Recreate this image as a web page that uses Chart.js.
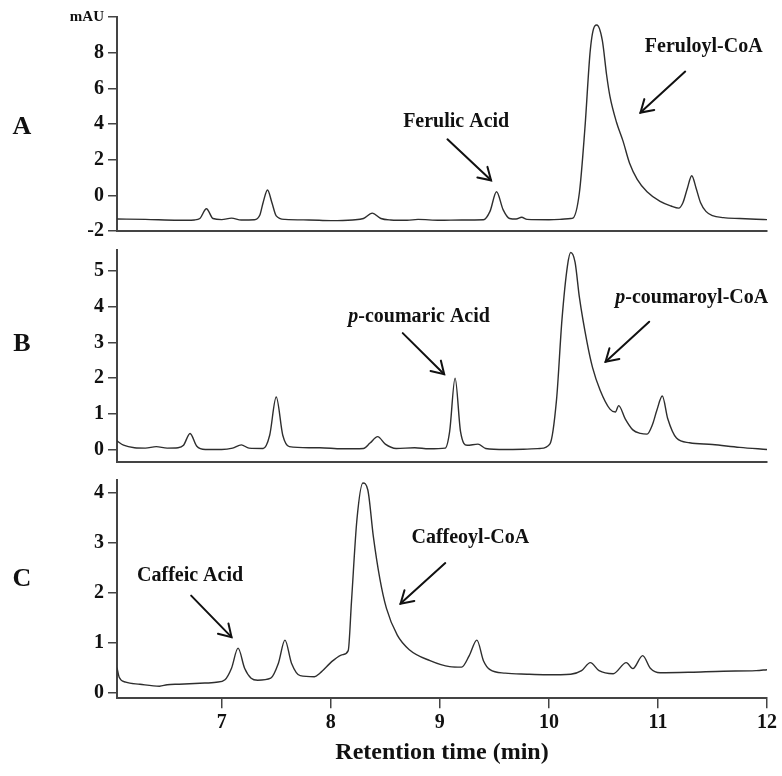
<!DOCTYPE html>
<html>
<head>
<meta charset="utf-8">
<script src="https://cdn.jsdelivr.net/npm/chart.js@4.4.1/dist/chart.umd.min.js"></script>
<style>
  html, body { margin: 0; padding: 0; background: #fff; }
  #wrap { position: relative; width: 782px; height: 776px; }
  #wrap canvas { position: absolute; left: 0; top: 0; }
</style>
</head>
<body>
<div id="wrap">
  <canvas id="chartA" width="782" height="776"></canvas>
  <canvas id="chartB" width="782" height="776"></canvas>
  <canvas id="chartC" width="782" height="776"></canvas>
</div>
<script>
// Retention time (min) and absorbance (mAU)
const timeA = [6.04, 6.3, 6.6, 6.75, 6.8, 6.86, 6.92, 7.0, 7.09, 7.18, 7.3, 7.35, 7.38, 7.42, 7.46, 7.5, 7.58, 7.8, 8.0, 8.2, 8.3, 8.38, 8.46, 8.55, 8.7, 8.8, 9.0, 9.2, 9.4, 9.46, 9.52, 9.58, 9.64, 9.7, 9.75, 9.8, 10.0, 10.1, 10.2, 10.22, 10.28, 10.33, 10.38, 10.42, 10.44, 10.49, 10.53, 10.56, 10.62, 10.68, 10.74, 10.81, 10.9, 11.02, 11.12, 11.19, 11.23, 11.27, 11.31, 11.35, 11.39, 11.44, 11.5, 11.6, 11.75, 11.9, 12.0];
const mauA = [-1.33, -1.35, -1.4, -1.38, -1.3, -0.75, -1.3, -1.36, -1.28, -1.38, -1.37, -1.1, -0.4, 0.3, -0.4, -1.15, -1.35, -1.38, -1.42, -1.38, -1.3, -1.0, -1.3, -1.38, -1.4, -1.35, -1.4, -1.38, -1.37, -0.9, 0.2, -0.8, -1.3, -1.33, -1.23, -1.35, -1.37, -1.35, -1.3, -1.28, 0.16, 3.73, 8.16, 9.49, 9.55, 8.69, 6.72, 5.55, 4.1, 3.04, 1.8, 0.9, 0.2, -0.34, -0.6, -0.72, -0.4, 0.4, 1.1, 0.4, -0.4, -0.9, -1.14, -1.25, -1.3, -1.34, -1.36];

const timeB = [6.04, 6.1, 6.2, 6.3, 6.4, 6.5, 6.6, 6.65, 6.71, 6.77, 6.85, 7.0, 7.1, 7.18, 7.25, 7.38, 7.44, 7.5, 7.56, 7.62, 7.8, 7.9, 8.1, 8.3, 8.36, 8.43, 8.5, 8.6, 8.77, 8.9, 9.05, 9.09, 9.14, 9.19, 9.25, 9.35, 9.42, 9.6, 9.8, 9.92, 10.01, 10.07, 10.12, 10.17, 10.2, 10.24, 10.28, 10.35, 10.4, 10.47, 10.56, 10.61, 10.64, 10.7, 10.77, 10.84, 10.9, 10.95, 10.99, 11.04, 11.09, 11.17, 11.29, 11.5, 11.75, 12.0];
const mauB = [0.24, 0.12, 0.05, 0.04, 0.08, 0.04, 0.05, 0.12, 0.45, 0.1, 0.0, 0.0, 0.04, 0.13, 0.04, 0.03, 0.4, 1.47, 0.4, 0.08, 0.05, 0.05, 0.02, 0.03, 0.18, 0.36, 0.15, 0.03, 0.05, 0.02, 0.04, 0.5, 2.0, 0.5, 0.12, 0.15, 0.03, 0.0, 0.01, 0.03, 0.16, 1.39, 3.64, 5.14, 5.52, 5.25, 4.26, 3.0, 2.3, 1.66, 1.13, 1.05, 1.23, 0.86, 0.55, 0.45, 0.43, 0.7, 1.1, 1.5, 0.86, 0.32, 0.19, 0.14, 0.06, 0.0];

const timeC = [6.04, 6.06, 6.12, 6.25, 6.43, 6.5, 6.61, 6.8, 6.95, 7.03, 7.09, 7.15, 7.21, 7.27, 7.33, 7.45, 7.52, 7.58, 7.64, 7.72, 7.85, 7.9, 8.02, 8.11, 8.16, 8.19, 8.24, 8.295, 8.34, 8.39, 8.45, 8.51, 8.61, 8.72, 8.91, 9.09, 9.2, 9.27, 9.34, 9.4, 9.46, 9.6, 9.8, 9.98, 10.2, 10.3, 10.38, 10.46, 10.59, 10.71, 10.77, 10.86, 10.93, 11.02, 11.3, 11.6, 11.9, 12.0];
const mauC = [0.51, 0.32, 0.22, 0.18, 0.14, 0.17, 0.18, 0.2, 0.22, 0.27, 0.5, 0.9, 0.5, 0.3, 0.26, 0.3, 0.6, 1.06, 0.6, 0.35, 0.33, 0.4, 0.65, 0.77, 0.85, 1.83, 3.47, 4.2, 4.06, 3.14, 2.29, 1.7, 1.16, 0.87, 0.65, 0.53, 0.52, 0.75, 1.06, 0.65, 0.47, 0.4, 0.38, 0.37, 0.38, 0.45, 0.61, 0.45, 0.39, 0.61, 0.49, 0.75, 0.5, 0.41, 0.42, 0.44, 0.45, 0.47];

const xTicks = [7, 8, 9, 10, 11, 12];
const yTicksA = [-2, 0, 2, 4, 6, 8, 10];
const yTicksB = [0, 1, 2, 3, 4, 5];
const yTicksC = [0, 1, 2, 3, 4];

// Peak labels and arrows, in data units of each panel
const notesA = {
    letter: 'A', letterY: 3.84,
    labels: [
        { x: 9.15, y: 4.1, text: 'Ferulic Acid' },
        { x: 11.42, y: 8.34, text: 'Feruloyl-CoA' },
    ],
    arrows: [
        { x1: 9.07, y1: 3.14, x2: 9.47, y2: 0.84 },
        { x1: 11.25, y1: 6.94, x2: 10.84, y2: 4.64 },
    ],
};
const notesB = {
    letter: 'B', letterY: 2.94,
    labels: [
        { x: 8.81, y: 3.72, pre: 'p', text: '-coumaric Acid' },
        { x: 11.31, y: 4.25, pre: 'p', text: '-coumaroyl-CoA' },
    ],
    arrows: [
        { x1: 8.66, y1: 3.26, x2: 9.04, y2: 2.11 },
        { x1: 10.92, y1: 3.58, x2: 10.52, y2: 2.46 },
    ],
};
const notesC = {
    letter: 'C', letterY: 2.27,
    labels: [
        { x: 6.71, y: 2.34, text: 'Caffeic Acid' },
        { x: 9.28, y: 3.11, text: 'Caffeoyl-CoA' },
    ],
    arrows: [
        { x1: 6.72, y1: 1.95, x2: 7.09, y2: 1.12 },
        { x1: 9.05, y1: 2.6, x2: 8.64, y2: 1.79 },
    ],
};

const SERIF = '"Liberation Serif", "Times New Roman", serif';
const AXIS = '#444';

// Draws panel letter, peak names and arrows
const notesPlugin = {
    id: 'notes',
    afterDatasetsDraw(chart, args, opts) {
        const ctx = chart.ctx;
        const xs = chart.scales.x;
        const ys = chart.scales.y;
        ctx.save();
        ctx.fillStyle = '#111';
        ctx.strokeStyle = '#111';
        ctx.textBaseline = 'middle';

        ctx.font = 'bold 26px ' + SERIF;
        ctx.textAlign = 'center';
        ctx.fillText(opts.letter, 22, ys.getPixelForValue(opts.letterY));

        ctx.textAlign = 'left';
        opts.labels.forEach(l => {
            const x = xs.getPixelForValue(l.x);
            const y = ys.getPixelForValue(l.y);
            ctx.font = 'italic bold 20px ' + SERIF;
            const w1 = l.pre ? ctx.measureText(l.pre).width : 0;
            ctx.font = 'bold 20px ' + SERIF;
            const w2 = ctx.measureText(l.text).width;
            let x0 = x - (w1 + w2) / 2;
            if (l.pre) {
                ctx.font = 'italic bold 20px ' + SERIF;
                ctx.fillText(l.pre, x0, y);
                x0 += w1;
                ctx.font = 'bold 20px ' + SERIF;
            }
            ctx.fillText(l.text, x0, y);
        });

        ctx.lineWidth = 2;
        ctx.lineCap = 'round';
        opts.arrows.forEach(a => {
            const x1 = xs.getPixelForValue(a.x1), y1 = ys.getPixelForValue(a.y1);
            const x2 = xs.getPixelForValue(a.x2), y2 = ys.getPixelForValue(a.y2);
            ctx.beginPath();
            ctx.moveTo(x1, y1);
            ctx.lineTo(x2, y2);
            ctx.stroke();
            const ang = Math.atan2(y2 - y1, x2 - x1);
            const hl = 14, spread = 0.55;
            ctx.beginPath();
            ctx.moveTo(x2 - hl * Math.cos(ang - spread), y2 - hl * Math.sin(ang - spread));
            ctx.lineTo(x2, y2);
            ctx.lineTo(x2 - hl * Math.cos(ang + spread), y2 - hl * Math.sin(ang + spread));
            ctx.stroke();
        });
        ctx.restore();
    }
};

function makeChart(id, times, values, yMin, yMax, yTicks, padTop, padBottom, isBottom, notes) {
    const points = times.map((t, i) => ({ x: t, y: values[i] }));
    return new Chart(document.getElementById(id), {
        type: 'line',
        data: {
            datasets: [{
                data: points,
                borderColor: '#2e2e2e',
                borderWidth: 1.4,
                pointRadius: 0,
                fill: false,
                cubicInterpolationMode: 'monotone',
            }],
        },
        options: {
            responsive: false,
            animation: false,
            layout: { padding: { top: padTop, bottom: padBottom, left: 0, right: 15 } },
            plugins: {
                legend: { display: false },
                tooltip: { enabled: false },
                notes: notes,
            },
            scales: {
                x: {
                    type: 'linear',
                    min: 6.04,
                    max: 12,
                    afterBuildTicks: s => { s.ticks = xTicks.map(v => ({ value: v })); },
                    grid: { display: isBottom, drawOnChartArea: false, tickLength: 10, color: AXIS, lineWidth: 1.5 },
                    border: { display: true, color: AXIS, width: 2 },
                    ticks: {
                        display: isBottom,
                        padding: 3,
                        color: '#111',
                        font: { family: SERIF, weight: 'bold', size: 20 },
                    },
                    title: {
                        display: isBottom,
                        text: 'Retention time (min)',
                        color: '#111',
                        padding: { top: 0, bottom: 2 },
                        font: { family: SERIF, weight: 'bold', size: 24 },
                    },
                },
                y: {
                    min: yMin,
                    max: yMax,
                    afterBuildTicks: s => { s.ticks = yTicks.map(v => ({ value: v })); },
                    afterFit: s => { s.width = 117; },
                    grid: { drawOnChartArea: false, tickLength: 9, color: AXIS, lineWidth: 1.5 },
                    border: { display: true, color: AXIS, width: 2 },
                    ticks: {
                        padding: 4,
                        color: '#111',
                        callback: v => (v === 10 ? 'mAU' : v),
                        font: c => (c.tick && c.tick.value === 10
                            ? { family: SERIF, weight: 'bold', size: 15 }
                            : { family: SERIF, weight: 'bold', size: 20 }),
                    },
                },
            },
        },
        plugins: [notesPlugin],
    });
}

makeChart('chartA', timeA, mauA, -2, 10, yTicksA, 17, 535, false, notesA);
makeChart('chartB', timeB, mauB, -0.35, 5.59, yTicksB, 250, 304, false, notesB);
makeChart('chartC', timeC, mauC, -0.1, 4.26, yTicksC, 480, 7, true, notesC);
</script>
</body>
</html>
